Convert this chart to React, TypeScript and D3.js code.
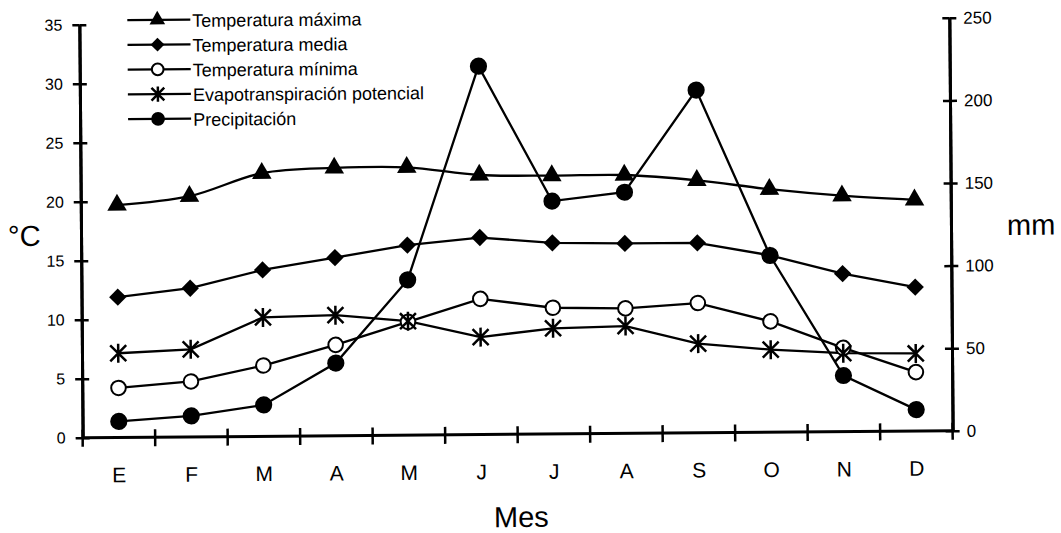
import React, { useEffect, useRef } from 'react';
import * as d3 from 'd3';

// Meses (eje X)
const months = ['E', 'F', 'M', 'A', 'M', 'J', 'J', 'A', 'S', 'O', 'N', 'D'];

// Temperaturas en °C (eje izquierdo)
const tempMax = [19.7, 20.4, 22.3, 22.7, 22.7, 22.0, 21.9, 21.9, 21.4, 20.6, 20.0, 19.6];
const tempMed = [11.9, 12.6, 14.1, 15.1, 16.1, 16.7, 16.2, 16.1, 16.1, 15.0, 13.4, 12.2];
const tempMin = [4.2, 4.7, 6.0, 7.7, 9.6, 11.5, 10.7, 10.6, 11.0, 9.4, 7.1, 5.0];

// mm (eje derecho)
const etp = [51, 53, 72, 73, 69, 59, 64, 65, 54, 50, 47.5, 47];
const precip = [9.7, 12.7, 19, 44, 94, 223, 141, 146, 207.5, 107, 34, 13];

const leftTicks = [0, 5, 10, 15, 20, 25, 30, 35];
const rightTicks = [0, 50, 100, 150, 200, 250];

const legendLabels = [
  'Temperatura máxima',
  'Temperatura media',
  'Temperatura mínima',
  'Evapotranspiración potencial',
  'Precipitación',
];

const FONT = '"Liberation Sans", Arial, sans-serif';

export default function App() {
  const ref = useRef<SVGSVGElement | null>(null);

  useEffect(() => {
    const width = 1061,
      height = 533;
    const svg = d3.select(ref.current).attr('width', width).attr('height', height);
    svg.selectAll('*').remove();

    // the scan is a little tilted
    const chart = svg.append('g').attr('transform', 'rotate(-0.46, 516, 230)');

    const x = d3.scaleBand<number>().domain(d3.range(months.length)).range([81, 951]);
    const bw = x.bandwidth();
    const cx = (i: number) => (x(i) as number) + bw / 2;

    const yL = d3.scaleLinear().domain([0, 35]).range([434.3, 21.3]);
    const yR = d3.scaleLinear().domain([0, 250]).range([434.3, 21.3]);

    // left axis, ticks crossing the line
    chart.append('g').attr('transform', 'translate(81,0)')
      .call(d3.axisRight(yL).tickValues(leftTicks).tickSize(7).tickSizeOuter(0).tickFormat(() => ''));
    const left = chart.append('g').attr('class', 'lab').attr('transform', 'translate(81,0)')
      .call(d3.axisLeft(yL).tickValues(leftTicks).tickSize(7).tickSizeOuter(0).tickPadding(10));

    // right axis
    chart.append('g').attr('transform', 'translate(951,0)')
      .call(d3.axisLeft(yR).tickValues(rightTicks).tickSize(7).tickSizeOuter(0).tickFormat(() => ''));
    const right = chart.append('g').attr('class', 'lab').attr('transform', 'translate(951,0)')
      .call(d3.axisRight(yR).tickValues(rightTicks).tickSize(7).tickSizeOuter(0).tickPadding(7));

    left.selectAll('text').style('font-size', '16px');
    right.selectAll('text').style('font-size', '17px');
    chart.selectAll('.domain').attr('stroke-width', 3);
    chart.selectAll('.tick line').attr('stroke-width', 2.5);
    chart.selectAll('.tick text').style('font-family', FONT).attr('fill', '#000');

    // bottom axis
    const y0 = yL(0);
    const bounds = d3.range(months.length).map(i => x(i) as number).concat([x.range()[1]]);
    chart
      .append('line')
      .attr('x1', x.range()[0])
      .attr('x2', x.range()[1])
      .attr('y1', y0)
      .attr('y2', y0)
      .attr('stroke', '#000')
      .attr('stroke-width', 3);
    chart
      .selectAll('.xtick')
      .data(bounds)
      .enter()
      .append('line')
      .attr('class', 'xtick')
      .attr('x1', d => d)
      .attr('x2', d => d)
      .attr('y1', y0 - 8)
      .attr('y2', y0 + 9)
      .attr('stroke', '#000')
      .attr('stroke-width', 2.5);
    chart
      .selectAll('.xlabel')
      .data(months)
      .enter()
      .append('text')
      .attr('class', 'xlabel')
      .attr('x', (d, i) => cx(i))
      .attr('y', 479)
      .attr('text-anchor', 'middle')
      .style('font-family', FONT)
      .style('font-size', '21px')
      .text(d => d);

    // axis titles
    chart.append('text').attr('x', 519).attr('y', 527).attr('text-anchor', 'middle')
      .style('font-family', FONT).style('font-size', '29px').text('Mes');
    chart.append('text').attr('x', 8).attr('y', 242)
      .style('font-family', FONT).style('font-size', '29px').text('°C');
    chart.append('text').attr('x', 1007).attr('y', 239)
      .style('font-family', FONT).style('font-size', '29px').text('mm');

    // markers
    const marker = (sel: any, kind: string, k: number) => {
      if (kind === 'tri') {
        sel.append('path').attr('d', d3.symbol(d3.symbolTriangle, 165 * k * k)()).attr('fill', '#000');
      } else if (kind === 'dia') {
        sel.append('path').attr('d', d3.symbol(d3.symbolSquare, 150 * k * k)())
          .attr('transform', 'rotate(45)').attr('fill', '#000');
      } else if (kind === 'open') {
        sel.append('circle').attr('r', 7.3 * k).attr('fill', '#fff').attr('stroke', '#000').attr('stroke-width', 2);
      } else if (kind === 'star') {
        const a = 8 * k,
          b = 9.5 * k;
        sel.append('path')
          .attr('d', `M${-a},${-a}L${a},${a}M${-a},${a}L${a},${-a}M0,${-b}L0,${b}`)
          .attr('stroke', '#000').attr('stroke-width', 2.5).attr('fill', 'none');
      } else {
        sel.append('circle').attr('r', 8.6 * k).attr('fill', '#000');
      }
    };

    const series = [
      { values: tempMax, scale: yL, kind: 'tri', smooth: true },
      { values: tempMed, scale: yL, kind: 'dia', smooth: false },
      { values: tempMin, scale: yL, kind: 'open', smooth: false },
      { values: etp, scale: yR, kind: 'star', smooth: false },
      { values: precip, scale: yR, kind: 'dot', smooth: false },
    ];

    series.forEach(s => {
      const line = d3
        .line<number>()
        .x((d, i) => cx(i))
        .y(d => s.scale(d))
        .curve(s.smooth ? d3.curveCatmullRom.alpha(0.5) : d3.curveLinear);
      chart.append('path').attr('d', line(s.values)).attr('fill', 'none').attr('stroke', '#000').attr('stroke-width', 2.3);
    });
    series.forEach(s => {
      s.values.forEach((v, i) => {
        const g = chart.append('g').attr('transform', `translate(${cx(i)},${s.scale(v)})`);
        marker(g, s.kind, 1);
      });
    });

    // legend
    const legY = d3.scalePoint<number>().domain(d3.range(legendLabels.length)).range([17, 116]);
    legendLabels.forEach((label, i) => {
      const ly = legY(i) as number;
      chart.append('line').attr('x1', 129).attr('x2', 192).attr('y1', ly).attr('y2', ly)
        .attr('stroke', '#000').attr('stroke-width', 2.3);
      const g = chart.append('g').attr('transform', `translate(159,${ly})`);
      marker(g, series[i].kind, 0.8);
      chart.append('text').attr('x', 194).attr('y', ly).attr('dy', '0.4em')
        .style('font-family', FONT).style('font-size', '18px').text(label);
    });
  }, []);

  return <svg ref={ref} style={{ position: 'absolute', left: 0, top: 0, background: '#fff' }} />;
}
